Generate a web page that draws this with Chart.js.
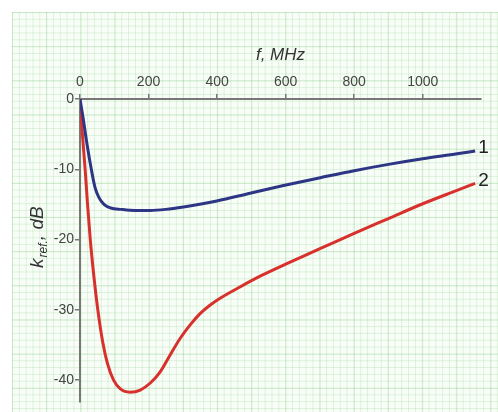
<!DOCTYPE html>
<html>
<head>
<meta charset="utf-8">
<script src="https://cdn.jsdelivr.net/npm/chart.js@4/dist/chart.umd.min.js"></script>
<style>
	html, body { margin: 0; padding: 0; background: #fff; }
	#wrap { position: relative; width: 498px; height: 412px; }
	#paper {
		position: absolute; left: 12px; top: 12px; right: 0; bottom: 0;
		background-color: #f8fdf7;
		background-image:
			linear-gradient(90deg, rgba(120,195,120,0.22) 1px, transparent 1px),
			linear-gradient(rgba(120,195,120,0.22) 1px, transparent 1px),
			linear-gradient(90deg, rgba(150,215,150,0.28) 1px, transparent 1px),
			linear-gradient(rgba(150,215,150,0.28) 1px, transparent 1px);
		background-size: 34.2px 34.2px, 34.2px 34.2px, 6.84px 6.84px, 6.84px 6.84px;
		background-position: 0 0;
	}
	canvas { position: absolute; left: 0; top: 0; }
</style>
</head>
<body>
<div id="wrap">
	<div id="paper"></div>
	<canvas id="chart" width="498" height="412"></canvas>
</div>
<script>

var freq1 = [0, 10, 20, 33, 44, 55, 70, 90, 120, 160, 204, 250, 302, 399, 496, 594, 701, 800, 900, 1000, 1100, 1153];
var loss1 = [0, -3, -6.3, -10, -12.6, -14, -15, -15.5, -15.7, -15.85, -15.85, -15.7, -15.35, -14.5, -13.4, -12.3, -11.2, -10.2, -9.3, -8.5, -7.8, -7.4];

var freq2 = [0, 7, 15, 22, 30, 40, 52, 66, 80, 98, 117, 146, 176, 205, 234, 263, 293, 322, 351, 380, 410, 468, 530, 600, 700, 800, 900, 1000, 1100, 1153];
var loss2 = [0, -5, -10, -15, -20, -25, -30, -34.5, -37.6, -40, -41.2, -41.7, -41.4, -40.4, -38.8, -36.4, -34, -32.1, -30.5, -29.3, -28.3, -26.7, -25.1, -23.5, -21.3, -19.1, -17, -14.9, -13, -12];

var curveNames = ["1", "2"];
var xTicks = [0, 200, 400, 600, 800, 1000];
var yTicks = [0, -10, -20, -30, -40];

var FONT = "'Liberation Sans', Arial, sans-serif";

function toPoints(xs, ys){

	return xs.map(function(x, i){ return {x: x, y: ys[i]}; });
}

var yTitlePlugin = {
	id: "yTitle",
	afterDraw: function(chart){

		var ctx = chart.ctx;
		ctx.save();
		ctx.translate(43, 268);
		ctx.rotate(-Math.PI / 2);
		ctx.fillStyle = "#333";
		ctx.textBaseline = "alphabetic";
		ctx.textAlign = "left";

		ctx.font = "italic 19px " + FONT;
		ctx.fillText("k", 0, 0);
		var x = ctx.measureText("k").width;

		ctx.font = "italic 12px " + FONT;
		ctx.fillText("ref.", x + 1, 4);
		x += ctx.measureText("ref.").width + 1;

		ctx.font = "italic 19px " + FONT;
		ctx.fillText(", dB", x, 0);
		ctx.restore();
	}
};

var curveLabelPlugin = {
	id: "curveLabels",
	afterDatasetsDraw: function(chart){

		var ctx = chart.ctx;
		ctx.save();
		ctx.font = "19px " + FONT;
		ctx.fillStyle = "#222";
		ctx.textAlign = "left";
		ctx.textBaseline = "middle";
		chart.data.datasets.forEach(function(ds, i){
			var meta = chart.getDatasetMeta(i);
			var last = meta.data[meta.data.length - 1];
			ctx.fillText(curveNames[i], last.x + 3, last.y - 3);
		});
		ctx.restore();
	}
};

var ctx = document.getElementById("chart");
var myChart = new Chart(ctx, {
	type: "line",
	data: {
		datasets: [
		{
			label: curveNames[0],
			data: toPoints(freq1, loss1),
			borderColor: "#2d3585",
			borderWidth: 3,
			pointRadius: 0,
			fill: false,
			cubicInterpolationMode: "monotone"
		},
		{
			label: curveNames[1],
			data: toPoints(freq2, loss2),
			borderColor: "#d8302c",
			borderWidth: 3,
			pointRadius: 0,
			fill: false,
			cubicInterpolationMode: "monotone"
		}
		]
	},
	options: {
		responsive: false,
		animation: false,
		layout: { padding: { left: 0, top: 0, right: 17, bottom: 10 } },
		plugins: {
			legend: { display: false },
			tooltip: { enabled: false }
		},
		scales: {
			x: {
				type: "linear",
				position: "top",
				min: 0,
				max: 1170,
				afterBuildTicks: function(s){ s.ticks = xTicks.map(function(v){ return {value: v}; }); },
				afterFit: function(s){ s.height = 99; },
				ticks: {
					color: "#444",
					font: { family: FONT, size: 14 },
					padding: 3,
					maxRotation: 0,
					callback: function(v){ return String(v); }
				},
				grid: { drawOnChartArea: false, tickLength: 5, color: "#777", lineWidth: 1.5 },
				border: { color: "#777", width: 2 },
				title: {
					display: true,
					text: "f, MHz",
					color: "#333",
					font: { family: FONT, size: 17, style: "italic" },
					padding: { top: 45, bottom: 0 }
				}
			},
			y: {
				type: "linear",
				position: "left",
				min: -43.1,
				max: 0,
				afterBuildTicks: function(s){ s.ticks = yTicks.map(function(v){ return {value: v}; }); },
				afterFit: function(s){ s.width = 80; },
				ticks: {
					color: "#444",
					font: { family: FONT, size: 14 },
					padding: 1,
					callback: function(v){ return String(v); }
				},
				grid: { drawOnChartArea: false, tickLength: 5, color: "#777", lineWidth: 1.5 },
				border: { color: "#777", width: 2 }
			}
		}
	},
	plugins: [yTitlePlugin, curveLabelPlugin]
});

</script>
</body>
</html>
